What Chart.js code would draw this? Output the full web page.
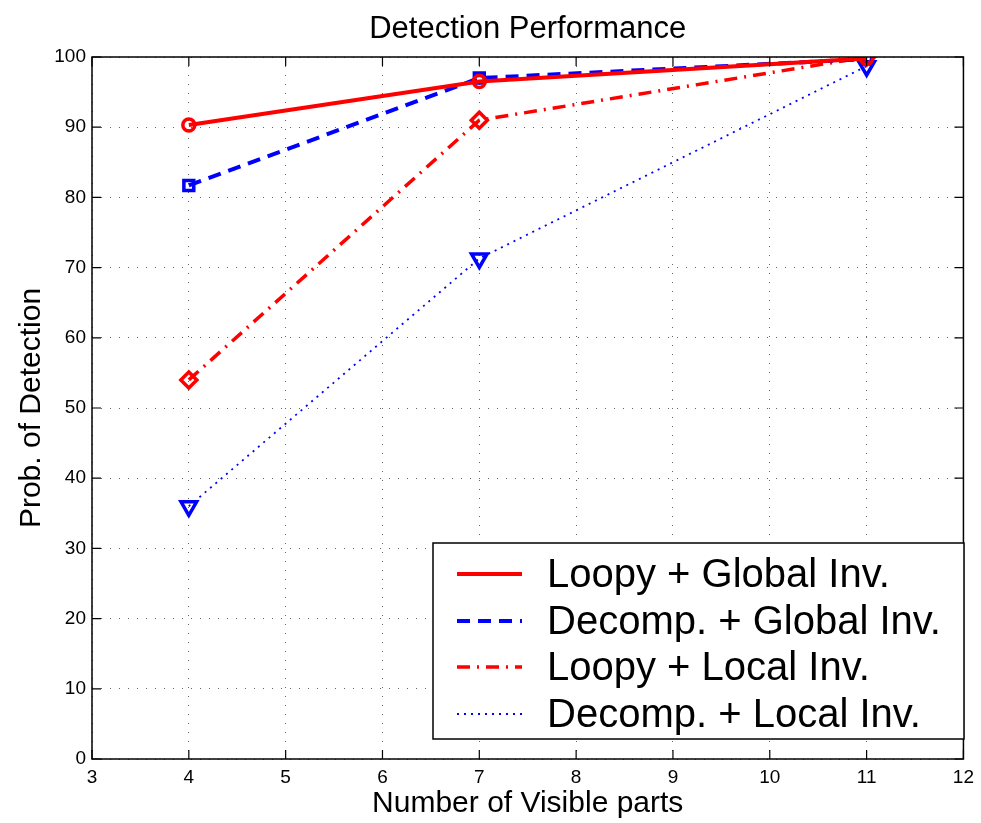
<!DOCTYPE html>
<html>
<head>
<meta charset="utf-8">
<script src="https://cdn.jsdelivr.net/npm/chart.js@4"></script>
<style>
  html, body { margin: 0; padding: 0; background: #fff; }
  #wrap { width: 981px; height: 823px; }
</style>
</head>
<body>
<div id="wrap"><canvas id="c" width="981" height="823"></canvas></div>
<script>
// ---- data ----
const chartTitle = 'Detection Performance';
const visibleParts = [4, 7, 11];
const loopyGlobal  = [90.3, 96.5, 99.8];
const decompGlobal = [81.7, 97.0, 99.7];
const loopyLocal   = [54.0, 91.0, 100.0];
const decompLocal  = [36.0, 71.3, 98.7];
const seriesLabels = ['Loopy + Global Inv.', 'Decomp. + Global Inv.', 'Loopy + Local Inv.', 'Decomp. + Local Inv.'];
const xTicks = [3, 4, 5, 6, 7, 8, 9, 10, 11, 12];
const yTicks = [0, 10, 20, 30, 40, 50, 60, 70, 80, 90, 100];

const FONT = '"Liberation Sans", Arial, Helvetica, sans-serif';
const RED = '#ff0000', BLUE = '#0000ff';

function pts(vals) { return visibleParts.map((x, i) => ({ x: x, y: vals[i] })); }

const styles = [
  { color: RED,  dash: [],            width: 4,   point: 'circle',   radius: 6, rot: 0 },
  { color: BLUE, dash: [13, 8],       width: 4,   point: 'rect',     radius: 7, rot: 0 },
  { color: RED,  dash: [13, 7, 2, 7], width: 3.5, point: 'rectRot',  radius: 8, rot: 0 },
  { color: BLUE, dash: [2, 5],        width: 1.8, point: 'triangle', radius: 9, rot: 180 }
];
const seriesVals = [loopyGlobal, decompGlobal, loopyLocal, decompLocal];

const datasets = seriesVals.map((v, i) => ({
  label: seriesLabels[i],
  data: pts(v),
  borderColor: styles[i].color,
  borderWidth: styles[i].width,
  borderDash: styles[i].dash,
  pointStyle: styles[i].point,
  pointRotation: styles[i].rot,
  pointRadius: styles[i].radius,
  pointBorderWidth: 3.5,
  pointBorderColor: styles[i].color,
  pointBackgroundColor: 'rgba(0,0,0,0)',
  fill: false,
  tension: 0
}));

// Title over plot, frame, inward tick marks and legend box
const framePlugin = {
  id: 'frame',
  afterDatasetsDraw(chart) {
    const { ctx, chartArea: a, scales } = chart;
    ctx.save();
    // title
    ctx.fillStyle = '#000';
    ctx.font = '31px ' + FONT;
    ctx.textAlign = 'center';
    ctx.textBaseline = 'middle';
    ctx.fillText(chartTitle, (a.left + a.right) / 2, 29);
    // frame
    ctx.strokeStyle = '#000';
    ctx.lineWidth = 1.5;
    ctx.setLineDash([]);
    ctx.strokeRect(a.left, a.top, a.right - a.left, a.bottom - a.top);
    ctx.lineWidth = 1.2;
    const tl = 9;
    scales.x.ticks.forEach(t => {
      const px = scales.x.getPixelForValue(t.value);
      ctx.beginPath();
      ctx.moveTo(px, a.bottom); ctx.lineTo(px, a.bottom - tl);
      ctx.moveTo(px, a.top); ctx.lineTo(px, a.top + tl);
      ctx.stroke();
    });
    scales.y.ticks.forEach(t => {
      const py = scales.y.getPixelForValue(t.value);
      ctx.beginPath();
      ctx.moveTo(a.left, py); ctx.lineTo(a.left + tl, py);
      ctx.moveTo(a.right, py); ctx.lineTo(a.right - tl, py);
      ctx.stroke();
    });
    // legend
    const bx = 433, by = 543, bw = 531, bh = 196;
    ctx.fillStyle = '#fff';
    ctx.fillRect(bx, by, bw, bh);
    ctx.lineWidth = 1.5;
    ctx.strokeStyle = '#000';
    ctx.strokeRect(bx, by, bw, bh);
    const rowsY = [574, 621, 667, 714];
    chart.data.datasets.forEach((ds, i) => {
      const y = rowsY[i];
      ctx.beginPath();
      ctx.strokeStyle = ds.borderColor;
      ctx.lineWidth = ds.borderWidth;
      ctx.setLineDash(ds.borderDash);
      ctx.moveTo(457, y); ctx.lineTo(522, y);
      ctx.stroke();
      ctx.setLineDash([]);
      ctx.fillStyle = '#000';
      ctx.font = '40px ' + FONT;
      ctx.textBaseline = 'middle';
      ctx.textAlign = 'left';
      ctx.fillText(ds.label, 547, y + 2);
    });
    ctx.restore();
  }
};

new Chart(document.getElementById('c'), {
  type: 'line',
  data: { datasets: datasets },
  options: {
    responsive: false,
    animation: false,
    devicePixelRatio: 1,
    layout: { padding: { left: 0, right: 13, top: 57, bottom: 0 } },
    plugins: {
      legend: { display: false },
      tooltip: { enabled: false },
      title: { display: false }
    },
    scales: {
      x: {
        type: 'linear',
        min: 3, max: 12,
        afterBuildTicks: s => { s.ticks = xTicks.map(v => ({ value: v })); },
        afterFit: s => { s.height = 64; },
        ticks: { color: '#000', font: { family: FONT, size: 19 }, padding: 7, maxRotation: 0, autoSkip: false },
        grid: { color: '#666', lineWidth: 1, drawTicks: false },
        border: { display: false, dash: [1, 8] },
        title: {
          display: true, text: 'Number of Visible parts', color: '#000',
          font: { family: FONT, size: 30, weight: 'normal', lineHeight: 1.2 },
          padding: { top: 0, bottom: 1 }
        }
      },
      y: {
        min: 0, max: 100,
        afterBuildTicks: s => { s.ticks = yTicks.map(v => ({ value: v })); },
        afterFit: s => { s.width = 92; },
        ticks: { color: '#000', font: { family: FONT, size: 19 }, padding: 6, autoSkip: false },
        grid: { color: '#666', lineWidth: 1, drawTicks: false },
        border: { display: false, dash: [1, 8] },
        title: {
          display: true, text: 'Prob. of Detection', color: '#000',
          font: { family: FONT, size: 30, weight: 'normal', lineHeight: 1.2 },
          padding: { top: 14, bottom: 0 }
        }
      }
    }
  },
  plugins: [framePlugin]
});
</script>
</body>
</html>
